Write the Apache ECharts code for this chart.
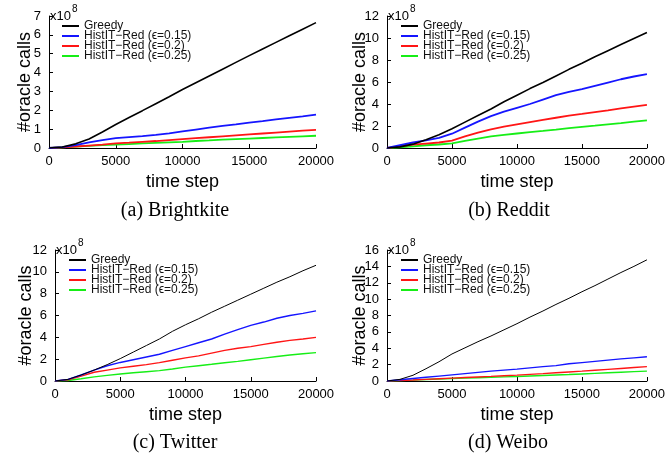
<!DOCTYPE html>
<html>
<head>
<meta charset="utf-8">
<script src="https://cdn.jsdelivr.net/npm/echarts@6/dist/echarts.min.js"></script>
<style>
  html, body { margin: 0; padding: 0; background: #fff; }
  #chart { width: 668px; height: 458px; }
</style>
</head>
<body>
<div id="chart"></div>
<script>
// Time steps shared by every panel
const timeSteps = [0,1000,2000,3000,4000,5000,6000,7000,8000,9000,10000,11000,12000,13000,14000,15000,16000,17000,18000,19000,20000];

// Oracle calls, in units of 1e8
// (a) Brightkite
const brightkiteGreedy = [0,0.05,0.22,0.48,0.85,1.25,1.62,1.98,2.35,2.72,3.1,3.46,3.82,4.18,4.54,4.9,5.25,5.6,5.95,6.3,6.65];
const brightkite015 = [0,0.05,0.15,0.3,0.42,0.52,0.58,0.63,0.7,0.78,0.88,0.98,1.08,1.17,1.25,1.35,1.43,1.52,1.6,1.68,1.77];
const brightkite020 = [0,0.03,0.08,0.13,0.18,0.24,0.28,0.33,0.37,0.42,0.47,0.52,0.57,0.62,0.67,0.72,0.77,0.82,0.87,0.92,0.96];
const brightkite025 = [0,0.03,0.07,0.11,0.15,0.18,0.21,0.24,0.27,0.3,0.33,0.37,0.4,0.44,0.47,0.5,0.53,0.56,0.59,0.62,0.65];
// (b) Reddit
const redditGreedy = [0,0.1,0.35,0.75,1.2,1.75,2.35,2.95,3.55,4.2,4.8,5.4,5.95,6.55,7.15,7.7,8.3,8.85,9.4,9.95,10.5];
const reddit015 = [0,0.25,0.5,0.7,0.92,1.3,1.85,2.4,2.9,3.3,3.65,4.0,4.4,4.8,5.1,5.35,5.65,5.95,6.25,6.5,6.72];
const reddit020 = [0,0.15,0.3,0.4,0.5,0.68,1.05,1.4,1.7,1.95,2.15,2.35,2.55,2.75,2.95,3.1,3.27,3.43,3.6,3.77,3.92];
const reddit025 = [0,0.05,0.15,0.25,0.32,0.42,0.65,0.85,1.05,1.2,1.32,1.44,1.55,1.67,1.8,1.92,2.03,2.15,2.27,2.4,2.52];
// (c) Twitter
const twitterGreedy = [0,0.15,0.55,1.0,1.5,2.05,2.65,3.25,3.85,4.55,5.15,5.7,6.3,6.85,7.4,7.95,8.5,9.05,9.55,10.1,10.6];
const twitter015 = [0,0.15,0.55,1.0,1.4,1.7,1.95,2.2,2.45,2.8,3.15,3.5,3.85,4.3,4.7,5.1,5.4,5.75,6.0,6.2,6.42];
const twitter020 = [0,0.1,0.45,0.8,1.0,1.2,1.35,1.5,1.68,1.9,2.12,2.3,2.55,2.8,3.0,3.15,3.35,3.55,3.72,3.85,4.0];
const twitter025 = [0,0.05,0.2,0.38,0.52,0.64,0.75,0.85,0.95,1.1,1.27,1.4,1.53,1.67,1.8,1.95,2.1,2.25,2.38,2.5,2.6];
// (d) Weibo
const weiboGreedy = [0,0.2,0.7,1.5,2.35,3.3,4.05,4.8,5.5,6.25,7.0,7.8,8.55,9.35,10.1,10.9,11.65,12.45,13.25,14.0,14.8];
const weibo015 = [0,0.15,0.3,0.45,0.6,0.75,0.9,1.05,1.2,1.33,1.45,1.6,1.75,1.88,2.1,2.25,2.4,2.55,2.7,2.83,2.96];
const weibo020 = [0,0.05,0.12,0.2,0.28,0.35,0.42,0.49,0.56,0.64,0.72,0.81,0.9,1.0,1.1,1.2,1.31,1.42,1.53,1.64,1.75];
const weibo025 = [0,0.05,0.11,0.18,0.24,0.3,0.35,0.4,0.45,0.5,0.55,0.61,0.67,0.73,0.79,0.86,0.93,1.0,1.07,1.14,1.21];

const seriesNames = ['Greedy', 'HistIT\u2212Red (\u03f5=0.15)', 'HistIT\u2212Red (\u03f5=0.2)', 'HistIT\u2212Red (\u03f5=0.25)'];
const seriesColors = ['#000000', '#1515ff', '#ff1515', '#16ee16'];
const captions = ['(a) Brightkite', '(b) Reddit', '(c) Twitter', '(d) Weibo'];
const yMax = [7, 12, 12, 16];
const yStep = [1, 2, 2, 2];
const xMax = 20000;
const xStep = 5000;

const panelData = [
  [brightkiteGreedy, brightkite015, brightkite020, brightkite025],
  [redditGreedy, reddit015, reddit020, reddit025],
  [twitterGreedy, twitter015, twitter020, twitter025],
  [weiboGreedy, weibo015, weibo020, weibo025]
];

// Layout of the four panels
const panels = [
  { grid: { left: 49, top: 16, width: 267, height: 132 }, nameGap: 15, lw: 1.8, blackLw: 1.6, legend: { left: 62, top: 20 } },
  { grid: { left: 387, top: 16, width: 261, height: 132 }, nameGap: 18, lw: 1.8, blackLw: 1.6, legend: { left: 401, top: 20 } },
  { grid: { left: 55, top: 250, width: 261, height: 131 }, nameGap: 20, lw: 1.4, blackLw: 1.0, legend: { left: 69, top: 254 } },
  { grid: { left: 387, top: 250, width: 261, height: 131 }, nameGap: 18, lw: 1.4, blackLw: 1.0, legend: { left: 401, top: 254 } }
];
const captionPos = [[175, 211], [509, 211], [175, 443], [508, 443]];

const sans = 'Liberation Sans, Arial, Helvetica, sans-serif';
const axisLineStyle = { color: '#000', width: 1 };

const option = {
  animation: false,
  backgroundColor: '#fff',
  grid: [], xAxis: [], yAxis: [], series: [], legend: [], graphic: []
};

panels.forEach((p, i) => {
  option.grid.push(Object.assign({ containLabel: false }, p.grid));
  option.xAxis.push({
    type: 'value', gridIndex: i, min: 0, max: xMax, interval: xStep,
    name: 'time step', nameLocation: 'middle', nameGap: 25, nameMoveOverlap: false,
    nameTextStyle: { fontFamily: sans, fontSize: 18, color: '#000' },
    axisLine: { show: true, lineStyle: axisLineStyle },
    axisTick: { show: true, inside: true, length: 4, lineStyle: axisLineStyle },
    axisLabel: { fontFamily: sans, fontSize: 13, color: '#000', margin: 7, formatter: v => String(v) },
    splitLine: { show: false }
  });
  option.yAxis.push({
    type: 'value', gridIndex: i, min: 0, max: yMax[i], interval: yStep[i],
    name: '#oracle calls', nameLocation: 'middle', nameGap: p.nameGap, nameRotate: 90, nameMoveOverlap: false,
    nameTextStyle: { fontFamily: sans, fontSize: 18, color: '#000' },
    axisLine: { show: true, lineStyle: axisLineStyle },
    axisTick: { show: true, inside: true, length: 4, lineStyle: axisLineStyle },
    axisLabel: { fontFamily: sans, fontSize: 13, color: '#000', margin: 8, formatter: v => String(v) },
    splitLine: { show: false }
  });
  panelData[i].forEach((vals, k) => {
    option.series.push({
      type: 'line', name: seriesNames[k], xAxisIndex: i, yAxisIndex: i,
      data: timeSteps.map((t, j) => [t, vals[j]]),
      showSymbol: false, symbol: 'none', smooth: false,
      color: seriesColors[k],
      lineStyle: { color: seriesColors[k], width: k === 0 ? p.blackLw : p.lw },
      z: 10 - k
    });
  });
  option.legend.push({
    left: p.legend.left, top: p.legend.top, orient: 'vertical',
    padding: 0, itemGap: -2, itemWidth: 17, itemHeight: 2, icon: 'rect',
    selectedMode: false,
    data: seriesNames,
    textStyle: { fontFamily: sans, fontSize: 12, color: '#111', lineHeight: 10.3, padding: [0, 0, 0, 0] }
  });
  // scale factor marker at the top of the y axis
  const gx = p.grid.left, gy = p.grid.top;
  option.graphic.push({
    type: 'text', left: gx + 1, top: gy - 6,
    style: { text: 'x10', fontFamily: sans, fontSize: 13, fill: '#000' }
  });
  option.graphic.push({
    type: 'text', left: gx + 23, top: gy - 12,
    style: { text: '8', fontFamily: sans, fontSize: 10, fill: '#000' }
  });
  option.graphic.push({
    type: 'text', x: captionPos[i][0], y: captionPos[i][1],
    style: { text: captions[i], fontFamily: 'Liberation Serif, Times New Roman, serif', fontSize: 20, fill: '#000', align: 'center', verticalAlign: 'middle' }
  });
});

const chart = echarts.init(document.getElementById('chart'), null, { renderer: 'canvas' });
chart.setOption(option);
</script>
</body>
</html>
